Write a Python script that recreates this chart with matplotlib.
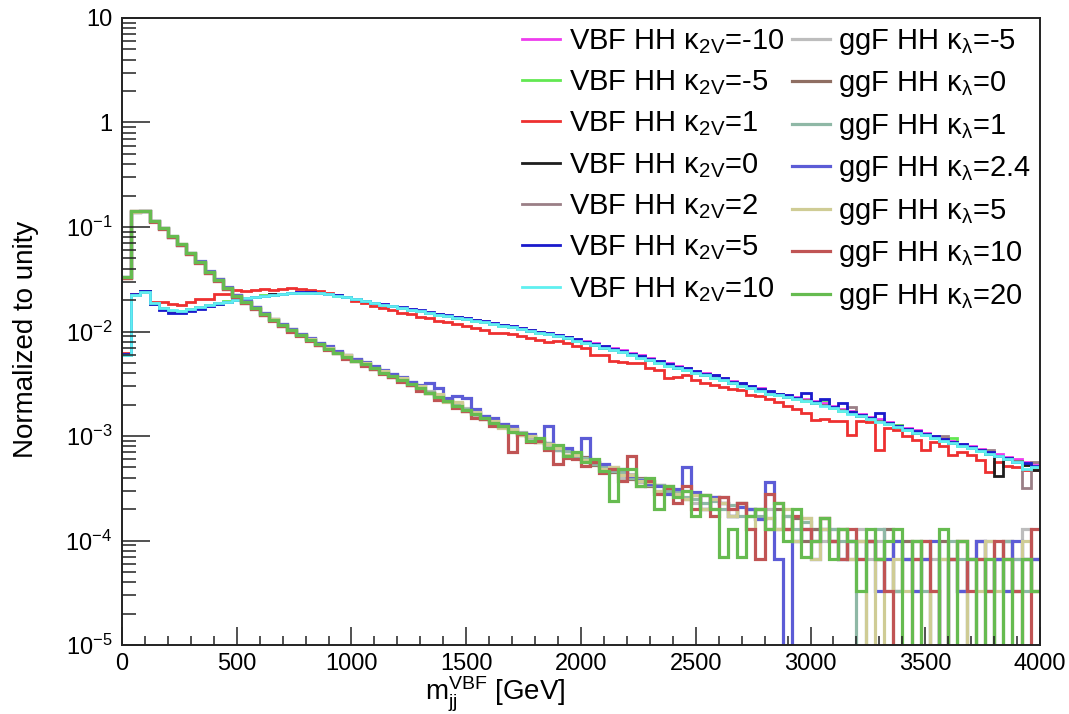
import numpy as np
import matplotlib
matplotlib.use('Agg')
import matplotlib.pyplot as plt
from matplotlib.ticker import FixedLocator, MultipleLocator, LogLocator, FuncFormatter, NullFormatter

plt.rcParams['font.family'] = ['Liberation Sans', 'DejaVu Sans']
plt.rcParams['mathtext.fontset'] = 'custom'
plt.rcParams['mathtext.rm'] = 'Liberation Sans'
plt.rcParams['mathtext.it'] = 'Liberation Sans:italic'
plt.rcParams['mathtext.bf'] = 'Liberation Sans:bold'

# m_jj^VBF histogram, 100 bins of 40 GeV from 0 to 4000
bin_edges = np.linspace(0, 4000, 101)

# bin contents, normalized to unity, in units of 1e-6
vbf_k2v_m10 = [
  6100, 22300, 23800, 18400, 16500, 15400, 15300, 16200, 16900, 17700, 18700, 19200, 20100, 20700, 21600, 22000, 22700, 23100, 23300, 23700,
  23500, 23400, 22700, 22300, 21500, 20600, 19700, 18900, 18300, 17600, 16900, 16400, 15800, 15200, 14800, 14200, 13900, 13400, 13000, 12500,
  12100, 11600, 11300, 10800, 10400, 10000, 9600, 9300, 8900, 8500, 8100, 7700, 7300, 6900, 6600, 6200, 5900, 5600, 5200, 4950,
  4700, 4500, 4200, 4000, 3800, 3600, 3350, 3200, 3000, 2850, 2650, 2550, 2450, 2350, 2250, 2150, 2050, 1950, 1820, 1720,
  1640, 1520, 1450, 1360, 1280, 1200, 1140, 1080, 1010, 950, 900, 840, 800, 750, 710, 670, 630, 600, 570, 550]
vbf_k2v_m5 = [
  5900, 22400, 24100, 18500, 16600, 15500, 15600, 16300, 17100, 17900, 18500, 19400, 19900, 20900, 21400, 22200, 22500, 23000, 23500, 23500,
  23700, 23200, 22900, 22100, 21300, 20300, 19400, 18700, 18000, 17400, 16700, 16100, 15600, 15000, 14500, 14000, 13600, 13200, 12700, 12200,
  11800, 11400, 11000, 10500, 10100, 9700, 9400, 9000, 8600, 8200, 7800, 7400, 7000, 6600, 6300, 6000, 5600, 5300, 5000, 4700,
  4500, 4300, 4000, 3800, 3600, 3400, 3250, 3000, 2850, 2750, 2550, 2450, 2350, 2250, 2150, 2050, 2200, 1850, 1750, 1650,
  1550, 1470, 1380, 1300, 1270, 1150, 1080, 1020, 960, 900, 950, 800, 760, 720, 680, 640, 600, 570, 530, 500]
vbf_k2v_1 = [
  6200, 23000, 24000, 19000, 19000, 18200, 18000, 19000, 20500, 20500, 22800, 23000, 25000, 24500, 24800, 25300, 25000, 25400, 25800, 25500,
  24800, 24200, 23200, 22300, 21300, 19800, 18600, 17700, 16800, 16200, 15200, 14600, 13900, 13400, 12700, 12300, 11700, 11400, 10900, 10300,
  9600, 9700, 9400, 9000, 8600, 8300, 8000, 8100, 7800, 7200, 6900, 6000, 5900, 5200, 5100, 5000, 5000, 4500, 4300, 3600,
  3700, 3800, 3400, 3200, 3100, 2950, 2800, 2750, 2450, 2400, 2250, 2100, 1950, 1800, 1660, 1420, 1450, 1400, 1400, 1020,
  1380, 1350, 730, 1200, 1150, 1000, 920, 730, 880, 800, 660, 700, 660, 590, 450, 560, 520, 500, 470, 470]
vbf_k2v_0 = [
  6000, 22600, 24200, 18700, 16800, 15700, 15500, 16400, 17000, 17900, 18600, 19300, 20000, 20800, 21500, 22100, 22700, 23000, 23400, 23600,
  23600, 23300, 22800, 22200, 21300, 20400, 19400, 18700, 18100, 17400, 16800, 16200, 15600, 15100, 14600, 14100, 13600, 13300, 12800, 12300,
  11800, 11500, 11100, 10600, 10200, 9800, 9400, 9100, 8600, 8300, 7900, 7500, 7000, 6700, 6300, 6100, 5700, 5300, 5100, 4800,
  4500, 4400, 4100, 3800, 3700, 3500, 3200, 3100, 2900, 2750, 2600, 2500, 2350, 2300, 2200, 2050, 2000, 1900, 1760, 1680,
  1560, 1500, 1380, 1320, 1220, 1170, 1080, 1040, 970, 920, 860, 820, 760, 730, 680, 410, 600, 580, 530, 470]
vbf_k2v_2 = [
  6000, 22400, 24000, 18600, 16700, 15600, 15500, 16300, 17000, 17800, 18600, 19300, 20000, 20800, 21500, 22100, 22600, 23000, 23400, 23600,
  23500, 23300, 22900, 22200, 21400, 20500, 19500, 18700, 18100, 17500, 16900, 16200, 15600, 15100, 14700, 14100, 13700, 13200, 12800, 12400,
  11900, 11500, 11000, 10600, 10300, 9800, 9500, 9100, 8800, 8300, 7900, 7600, 7100, 6700, 6400, 6100, 5800, 5400, 5100, 4800,
  4600, 4400, 4100, 3900, 3700, 3550, 3300, 3050, 2900, 2800, 2600, 2500, 2400, 2300, 2200, 2100, 2000, 1880, 1780, 1900,
  1580, 1490, 1400, 1320, 1240, 1170, 1100, 1040, 980, 1000, 870, 820, 770, 730, 740, 650, 610, 580, 320, 560]
vbf_k2v_5 = [
  6100, 22800, 24300, 18300, 16200, 15100, 15000, 15800, 16600, 17500, 18400, 19200, 19900, 20600, 21500, 22100, 22600, 23100, 23500, 23700,
  23700, 23400, 22900, 22400, 21500, 20600, 19700, 18900, 18300, 17600, 17000, 16300, 15900, 15300, 14800, 14300, 13800, 13500, 12900, 12500,
  12000, 11600, 11200, 10800, 10300, 9900, 9600, 9200, 8800, 8400, 8000, 7600, 7200, 6800, 6500, 6100, 5800, 5500, 5200, 4900,
  4600, 4500, 4200, 3900, 3800, 3600, 3300, 3200, 3000, 2800, 2700, 2500, 2450, 2300, 2600, 2100, 2250, 1900, 2050, 1700,
  1600, 1500, 1650, 1330, 1250, 1180, 1110, 1050, 990, 930, 880, 830, 780, 740, 700, 650, 620, 560, 550, 520]
vbf_k2v_10 = [
  6000, 22200, 23900, 18800, 16900, 15900, 15700, 16400, 17100, 17800, 18600, 19300, 20100, 20800, 21400, 22000, 22500, 23000, 23300, 23500,
  23500, 23200, 22700, 22100, 21300, 20300, 19400, 18700, 18000, 17400, 16700, 16100, 15600, 15000, 14500, 14000, 13600, 13200, 12700, 12200,
  11800, 11400, 11000, 10500, 10100, 9700, 9400, 9000, 8600, 8200, 7800, 7400, 7000, 6600, 6300, 6000, 5600, 5300, 5000, 4700,
  4500, 4300, 4000, 3800, 3600, 3400, 3200, 3000, 2850, 2700, 2550, 2450, 2350, 2250, 2150, 2050, 1950, 1840, 1740, 1640,
  1550, 1460, 1370, 1290, 1210, 1150, 1080, 1020, 960, 900, 850, 800, 760, 720, 670, 640, 600, 560, 480, 500]

ggf_kl_m5 = [
  33500, 139000, 143000, 113000, 96500, 81500, 67500, 56500, 45500, 37500, 30500, 26300, 21800, 19400, 16600, 14900, 12800, 11700, 10200, 9400,
  8300, 7700, 6800, 6400, 5700, 5400, 4800, 4600, 4000, 3900, 3400, 3300, 2800, 2700, 2300, 2250, 1950, 1850, 1600, 1550,
  1350, 1300, 1100, 1100, 940, 930, 790, 800, 660, 690, 560, 590, 470, 500, 400, 430, 360, 370, 300, 330,
  270, 300, 230, 270, 200, 260, 170, 230, 200, 160, 200, 130, 170, 100, 165, 130, 100, 130, 66, 100,
  130, 66, 100, 33, 100, 66, 33, 100, 66, 0, 66, 100, 0, 66, 100, 66, 33, 66, 130, 66]
ggf_kl_0 = [
  32500, 141000, 141500, 114500, 97500, 80500, 68500, 55500, 46500, 36500, 31500, 25700, 22300, 18900, 17100, 14500, 13200, 11400, 10500, 9200,
  8500, 7500, 7000, 6200, 5900, 5200, 5000, 4400, 4200, 3700, 3600, 3100, 3000, 2600, 2450, 2150, 2050, 1750, 1700, 1450,
  1420, 1220, 1200, 1020, 1010, 870, 860, 730, 720, 620, 630, 530, 520, 450, 460, 390, 400, 330, 340, 300,
  300, 250, 270, 200, 260, 230, 170, 230, 170, 200, 130, 200, 130, 165, 100, 130, 165, 100, 130, 66,
  100, 100, 66, 130, 33, 100, 66, 66, 0, 100, 66, 33, 66, 100, 0, 66, 100, 33, 66, 33]
ggf_kl_1 = [
  33000, 140500, 142500, 114000, 96800, 81200, 68200, 56200, 45800, 37200, 30800, 26100, 21900, 19300, 16700, 14800, 12900, 11600, 10300, 9300,
  8400, 7600, 6900, 6300, 5800, 5300, 4900, 4500, 4100, 3800, 3500, 3200, 2900, 2650, 2400, 2200, 2000, 1800, 1650, 1500,
  1400, 1250, 1170, 1040, 1000, 880, 850, 740, 720, 640, 620, 540, 520, 460, 450, 400, 390, 340, 340, 300,
  290, 260, 250, 230, 240, 200, 220, 170, 200, 170, 165, 130, 170, 130, 150, 100, 130, 130, 100, 100,
  0, 100, 130, 66, 33, 66, 100, 33, 0, 66, 100, 66, 0, 66, 66, 0, 100, 66, 33, 66]
ggf_kl_2p4 = [
  33200, 139500, 142000, 114500, 97200, 80800, 67800, 56800, 46800, 37800, 31500, 26600, 22600, 19700, 17300, 15200, 13300, 11900, 10600, 9500,
  8700, 7800, 7200, 6500, 6000, 5500, 5100, 4700, 4300, 3900, 3700, 3300, 3100, 3200, 2900, 2300, 2400, 2300, 1800, 1550,
  1500, 1300, 1250, 1080, 1050, 920, 1250, 770, 760, 660, 950, 560, 540, 480, 480, 410, 380, 350, 330, 280,
  310, 500, 290, 200, 260, 230, 170, 210, 200, 160, 360, 66, 0, 100, 130, 66, 130, 100, 66, 100,
  66, 100, 33, 66, 100, 66, 33, 66, 100, 0, 66, 33, 66, 100, 33, 66, 33, 100, 66, 66]
ggf_kl_5 = [
  32800, 140200, 141800, 113500, 97000, 81000, 68000, 56000, 46000, 36800, 31200, 25800, 22100, 19000, 16900, 14600, 13100, 11500, 10400, 9200,
  8400, 7500, 7000, 6200, 5900, 5200, 5000, 4400, 4200, 3700, 3600, 3100, 3000, 2600, 2500, 2100, 2100, 1750, 1700, 1450,
  1400, 1200, 1170, 1030, 990, 870, 830, 770, 660, 660, 590, 560, 480, 500, 420, 420, 370, 360, 300, 330,
  280, 250, 270, 200, 250, 230, 170, 230, 130, 200, 165, 130, 200, 100, 165, 66, 130, 100, 130, 66,
  100, 0, 66, 0, 66, 33, 100, 0, 33, 66, 0, 100, 0, 33, 100, 33, 66, 0, 100, 33]
ggf_kl_10 = [
  32700, 141500, 141000, 112500, 96000, 80500, 67000, 55000, 45000, 36500, 30200, 25500, 21600, 18800, 16300, 14300, 12600, 11300, 9900, 9100,
  8100, 7400, 6600, 6200, 5500, 5200, 4700, 4400, 3900, 3700, 3300, 3100, 2700, 2600, 2200, 2150, 1850, 1750, 1500, 1450,
  1260, 1250, 700, 1050, 880, 900, 740, 540, 620, 600, 520, 560, 440, 480, 370, 650, 330, 370, 280, 320,
  230, 330, 200, 270, 170, 260, 200, 230, 130, 66, 280, 230, 130, 170, 130, 100, 165, 100, 66, 130,
  66, 100, 66, 33, 0, 0, 66, 100, 33, 0, 66, 100, 33, 66, 33, 100, 66, 33, 0, 130]
ggf_kl_20 = [
  33300, 140800, 142800, 114200, 97400, 81400, 68300, 56300, 46200, 37100, 30900, 26000, 22000, 19200, 16800, 14700, 12950, 11550, 10250, 9250,
  8350, 7550, 6850, 6250, 5750, 5250, 4850, 4450, 4050, 3750, 3450, 3150, 2850, 2600, 2380, 2150, 1950, 1780, 1620, 1480,
  1320, 1260, 1100, 1060, 900, 960, 760, 820, 640, 700, 560, 600, 460, 240, 480, 480, 330, 400, 200, 330,
  260, 300, 170, 270, 200, 70, 130, 70, 170, 200, 130, 230, 100, 200, 70, 100, 165, 66, 130, 100,
  33, 130, 66, 100, 130, 0, 100, 0, 0, 130, 0, 100, 66, 0, 66, 0, 66, 0, 66, 33]

vbf_series = [vbf_k2v_m10, vbf_k2v_m5, vbf_k2v_1, vbf_k2v_0, vbf_k2v_2, vbf_k2v_5, vbf_k2v_10]
vbf_k2v_labels = ['-10', '-5', '1', '0', '2', '5', '10']
vbf_colors = ['#ee3cee', '#62e852', '#ee3030', '#1e1e1e', '#9a7f86', '#1a1acc', '#5ff0f0']

ggf_series = [ggf_kl_m5, ggf_kl_0, ggf_kl_1, ggf_kl_2p4, ggf_kl_5, ggf_kl_10, ggf_kl_20]
ggf_kl_labels = ['-5', '0', '1', '2.4', '5', '10', '20']
ggf_colors = ['#bdbdbd', '#8f6e62', '#8fb8a6', '#5c5cd6', '#cfcc95', '#c05454', '#66bb50']


def to_plot(vals):
  v = np.array(vals, dtype=float) * 1e-6
  # empty bins drop to the bottom of the frame, like ROOT
  return np.where(v > 0, v, 1e-9)


fig = plt.figure(figsize=(10.69, 7.14), dpi=100)
ax = fig.add_axes([0.1141, 0.0966, 0.8588, 0.8782])

handles = []
for vals, k, c in zip(vbf_series, vbf_k2v_labels, vbf_colors):
  h = ax.stairs(to_plot(vals), bin_edges, baseline=None, color=c, lw=2.0,
                label='VBF HH κ$_{\\mathregular{2V}}$=' + k)
  handles.append(h)
for vals, k, c in zip(ggf_series, ggf_kl_labels, ggf_colors):
  h = ax.stairs(to_plot(vals), bin_edges, baseline=None, color=c, lw=2.3,
                label='ggF HH κ$_{\\mathregular{\\lambda}}$=' + k)
  handles.append(h)

ax.set_yscale('log')
ax.set_xlim(0, 4000)
ax.set_ylim(1e-5, 10)

ax.xaxis.set_major_locator(MultipleLocator(500))
ax.xaxis.set_minor_locator(MultipleLocator(100))
ax.yaxis.set_major_locator(FixedLocator([1e-5, 1e-4, 1e-3, 1e-2, 1e-1, 1, 10]))
ax.yaxis.set_minor_locator(LogLocator(base=10, subs=np.arange(2, 10), numticks=20))
ax.yaxis.set_minor_formatter(NullFormatter())


def ylab(v, pos):
  if v >= 1:
    return '%d' % round(v)
  return r'$\mathregular{10^{%d}}$' % round(np.log10(v))


ax.yaxis.set_major_formatter(FuncFormatter(ylab))

ax.tick_params(which='both', direction='in', top=False, right=False, width=1.1, labelsize=17, color='#222222')
ax.tick_params(axis='y', which='major', length=20, pad=7)
ax.tick_params(axis='y', which='minor', length=10)
ax.tick_params(axis='x', which='major', length=13, pad=5.5)
ax.tick_params(axis='x', which='minor', length=6.5)
for s in ax.spines.values():
  s.set_linewidth(1.4)
  s.set_color('#222222')

fig.text(0.024, 0.524, 'Normalized to unity', rotation=90, ha='center', va='center', fontsize=20)
fig.text(0.463, 0.0196, r'$\mathregular{m_{jj}^{VBF}}$ [GeV]', ha='center', va='baseline', fontsize=20)

ax.legend(handles=handles, ncol=2, loc='upper right', bbox_to_anchor=(1.0, 1.0),
          frameon=False, fontsize=21, handlelength=1.3, handletextpad=0.3,
          columnspacing=0.25, labelspacing=0.43, borderaxespad=0.0, borderpad=0.3)

fig.savefig('out.png', dpi=100)
